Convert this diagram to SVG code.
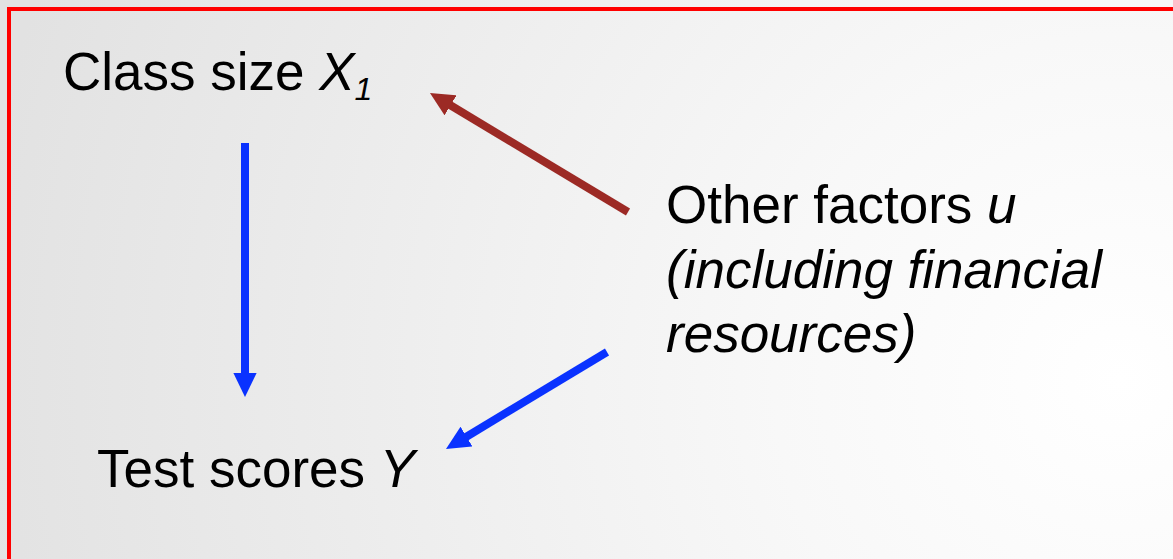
<svg xmlns="http://www.w3.org/2000/svg" width="1173" height="559" viewBox="0 0 1173 559">
  <defs>
    <radialGradient id="bg" gradientUnits="userSpaceOnUse" cx="1120" cy="380" r="1150">
      <stop offset="0" stop-color="#ffffff"/>
      <stop offset="0.3" stop-color="#f8f8f8"/>
      <stop offset="1" stop-color="#e2e2e2"/>
    </radialGradient>
    <marker id="headBlue" markerUnits="strokeWidth" markerWidth="3" markerHeight="3" viewBox="0 0 3 2.9" refX="0.5" refY="1.45" orient="auto">
      <path d="M0,0 L3,1.45 L0,2.9 z" fill="#0a32ff"/>
    </marker>
    <marker id="headRed" markerUnits="strokeWidth" markerWidth="3" markerHeight="3" viewBox="0 0 3 2.9" refX="0.5" refY="1.45" orient="auto">
      <path d="M0,0 L3,1.45 L0,2.9 z" fill="#9c2a25"/>
    </marker>
    <style>
      .t { font-family: "Liberation Sans", Arial, sans-serif; font-size: 53px; fill: #000; }
      .i { font-style: italic; }
      .blue { stroke: #0a32ff; stroke-width: 8; fill: none; marker-end: url(#headBlue); }
      .red { stroke: #9c2a25; stroke-width: 8; fill: none; marker-end: url(#headRed); }
    </style>
  </defs>
  <rect x="0" y="0" width="1173" height="559" fill="url(#bg)"/>
  <path d="M9,559 L9,9 L1173,9" fill="none" stroke="#ff0000" stroke-width="4"/>

  <g id="class-size">
    <text class="t" x="63" y="90">Class size <tspan class="i">X</tspan><tspan class="i" font-size="32" dy="10">1</tspan></text>
  </g>
  <g id="test-scores">
    <text class="t" x="97" y="487">Test scores <tspan class="i">Y</tspan></text>
  </g>
  <g id="other-factors">
    <text class="t" x="666" y="223">Other factors <tspan class="i">u</tspan></text>
    <text class="t i" x="666" y="288">(including financial</text>
    <text class="t i" x="666" y="352">resources)</text>
  </g>

  <g id="connectors">
    <line class="blue" x1="245" y1="143" x2="245" y2="377"/>
    <line class="red" x1="628" y1="212" x2="447.1" y2="103.3"/>
    <line class="blue" x1="607" y1="352" x2="463.1" y2="438.7"/>
  </g>
</svg>
